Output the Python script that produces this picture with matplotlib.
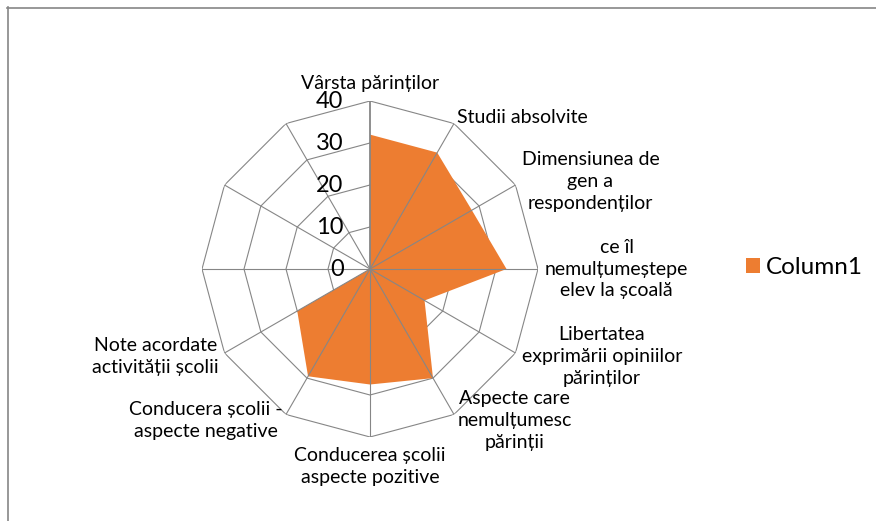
import numpy as np
import matplotlib
matplotlib.use("Agg")
import matplotlib.pyplot as plt
from matplotlib.lines import Line2D

plt.rcParams['font.family'] = ['Lato', 'DejaVu Sans']

# date
categorii = [
    "Vârsta părinților",
    "Studii absolvite",
    "Dimensiunea de\ngen a\nrespondenților",
    "ce îl\nnemulțumeștepe\nelev la școală",
    "Libertatea\nexprimării opiniilor\npărinților",
    "Aspecte care\nnemulțumesc\npărinții",
    "Conducerea școlii\naspecte pozitive",
    "Conducera școlii -\naspecte negative",
    "Note acordate\nactivității școlii",
    "",
    "",
    "",
]
column1 = [32, 32, 28, 32.5, 15, 30, 27.5, 29.5, 20, 0, 0, 0]
niveluri = [0, 10, 20, 30, 40]

ORANGE = "#ED7D31"
GRID = "#868686"

fig = plt.figure(figsize=(8.76, 5.21), dpi=100)

# chenarul graficului (doar stanga si sus se vad)
fig.add_artist(Line2D([7.5 / 876, 7.5 / 876], [0, 1 - 7 / 521], transform=fig.transFigure,
                      color=GRID, lw=1.2))
fig.add_artist(Line2D([7 / 876, 1], [1 - 7.5 / 521, 1 - 7.5 / 521], transform=fig.transFigure,
                      color=GRID, lw=1.2))

cx, cy, rad = 370 / 876, 1 - 269 / 521, 168
w, h = rad / 876, rad / 521
ax = fig.add_axes([cx - w, cy - h, 2 * w, 2 * h], projection="polar")
ax.set_theta_offset(np.pi / 2)
ax.set_theta_direction(-1)
ax.set_ylim(0, 40)
ax.grid(False)
ax.spines["polar"].set_visible(False)
ax.set_xticks([])
ax.set_yticks([])
ax.patch.set_visible(False)

n = len(categorii)
unghiuri = np.arange(n) * 2 * np.pi / n
inchis = np.append(unghiuri, unghiuri[0])

# grila poligonala (sub serie)
for lv in niveluri[1:]:
    ax.plot(inchis, [lv] * (n + 1), color=GRID, lw=0.8, zorder=1)

# seria
vals = np.append(column1, column1[0])
ax.fill(inchis, vals, color=ORANGE, lw=0, label="Column1", zorder=2)

# spitele (peste serie)
for i, a in enumerate(unghiuri):
    ax.plot([a, a], [0, 40], color=GRID, lw=1.3 if i == 0 else 0.8, zorder=3)

# etichete axa valorilor
for lv in niveluri:
    ax.annotate(str(lv), xy=(0, lv), xytext=(-19, 0), textcoords="offset points",
                ha="right", va="center", fontsize=17, color="black")

# etichete categorii
for a, txt in zip(unghiuri, categorii):
    if not txt:
        continue
    deg = round(np.degrees(a))
    if deg == 0:
        ha, va, d = "center", "bottom", 6.5
    elif deg == 180:
        ha, va, d = "center", "top", 7.5
    elif deg < 180:
        ha, va, d = "left", "center", 5
    else:
        ha, va, d = "right", "center", 5
    ax.annotate(txt, xy=(a, 40), xytext=(d * np.sin(a), d * np.cos(a)),
                textcoords="offset points", ha=ha, va=va, multialignment="center",
                fontsize=14, linespacing=1.33, color="black")

fig.legend(loc="center left", bbox_to_anchor=(746 / 876, 1 - 268 / 521), frameon=False,
           fontsize=17.5, handlelength=0.58, handleheight=0.58, handletextpad=0.25,
           borderpad=0, borderaxespad=0)

fig.savefig("out.png", dpi=100)
